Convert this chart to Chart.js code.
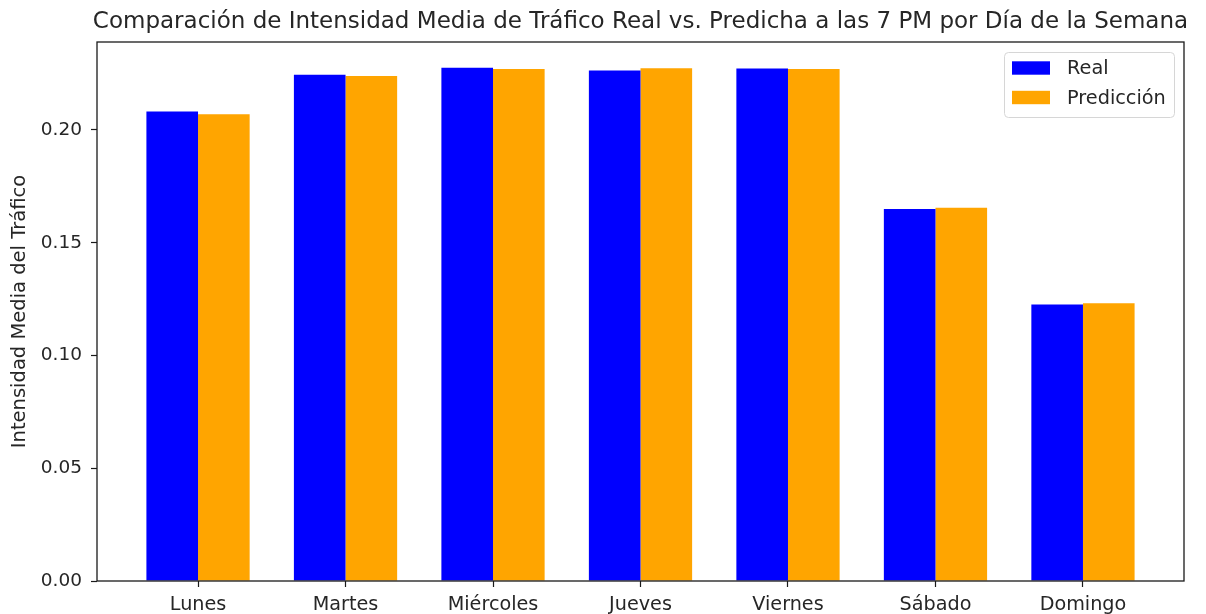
<!DOCTYPE html>
<html><head><meta charset="utf-8">
<script src="https://cdn.jsdelivr.net/npm/chart.js@4/dist/chart.umd.min.js"></script>
<style>html,body{margin:0;padding:0;background:#fff;overflow:hidden}</style>
</head><body>
<canvas id="c" width="1206" height="614"></canvas>
<script>
const days = ['Lunes','Martes','Miércoles','Jueves','Viernes','Sábado','Domingo'];
const realValues = [0.2082,0.2245,0.2276,0.2264,0.2272,0.1649,0.1226];
const predValues = [0.2070,0.2239,0.2270,0.2274,0.2270,0.1655,0.1232];
const yTicks = [0,0.05,0.10,0.15,0.20];
const seriesNames = ['Real','Predicción'];
const seriesColors = ['#0000ff','#ffa500'];
const titleText = 'Comparación de Intensidad Media de Tráfico Real vs. Predicha a las 7 PM por Día de la Semana';
const yTitleText = 'Intensidad Media del Tráfico';

const FONT = "'DejaVu Sans', sans-serif";
const TXT = '#262626';

const framePlugin = {
  id: 'frame',
  afterDraw(chart) {
    const {ctx, chartArea: a} = chart;
    ctx.save();
    // frame
    ctx.strokeStyle = '#1a1a1a';
    ctx.lineWidth = 1.3;
    ctx.strokeRect(a.left, a.top, a.right - a.left, a.bottom - a.top);
    // title
    ctx.fillStyle = TXT;
    ctx.font = '23px ' + FONT;
    ctx.textAlign = 'center';
    ctx.textBaseline = 'middle';
    ctx.fillText(titleText, (a.left + a.right) / 2, 22);
    // legend
    const bw = 170, bh = 65;
    const bx = a.right - 10 - bw, by = a.top + 10;
    ctx.beginPath();
    if (ctx.roundRect) ctx.roundRect(bx + 0.5, by + 0.5, bw, bh, 4); else ctx.rect(bx + 0.5, by + 0.5, bw, bh);
    ctx.fillStyle = 'rgba(255,255,255,0.8)';
    ctx.fill();
    ctx.strokeStyle = '#d6d6d6';
    ctx.lineWidth = 1;
    ctx.stroke();
    ctx.font = '19.3px ' + FONT;
    ctx.textAlign = 'left';
    chart.data.datasets.forEach((ds, i) => {
      const cy = by + 16 + i * 29.5;
      ctx.fillStyle = ds.backgroundColor;
      ctx.fillRect(bx + 8, cy - 6.7, 38, 13.4);
      ctx.fillStyle = TXT;
      ctx.fillText(ds.label, bx + 63, cy + 1);
    });
    ctx.restore();
  }
};

new Chart(document.getElementById('c'), {
  type: 'bar',
  data: {
    datasets: [
      { label: seriesNames[0], data: realValues.map((v, i) => ({x: i, y: v})), backgroundColor: seriesColors[0], categoryPercentage: 0.7, barPercentage: 1.0, borderWidth: 0 },
      { label: seriesNames[1], data: predValues.map((v, i) => ({x: i, y: v})), backgroundColor: seriesColors[1], categoryPercentage: 0.7, barPercentage: 1.0, borderWidth: 0 }
    ]
  },
  options: {
    responsive: false,
    devicePixelRatio: 1,
    animation: false,
    layout: { padding: { left: 0, right: 22, top: 42, bottom: 0 } },
    plugins: { legend: { display: false }, title: { display: false }, tooltip: { enabled: false } },
    scales: {
      x: {
        type: 'linear',
        min: -0.685, max: 6.685,
        offset: false,
        afterBuildTicks(s) { s.ticks = days.map((d, i) => ({ value: i })); },
        afterFit(s) { s.height = 33; },
        ticks: { callback: (v) => days[v], color: TXT, font: { family: FONT, size: 19.2 }, padding: 6, maxRotation: 0, autoSkip: false },
        grid: { display: true, offset: false, drawOnChartArea: false, drawTicks: true, tickLength: 6, tickColor: '#1a1a1a', tickWidth: 1.2 },
        border: { display: false }
      },
      y: {
        min: 0, max: 0.239,
        afterBuildTicks(s) { s.ticks = yTicks.map(v => ({ value: v })); },
        afterFit(s) { s.width = 97; },
        ticks: { callback: (v) => v.toFixed(2), color: TXT, font: { family: FONT, size: 18.5 }, padding: 9 },
        grid: { display: true, offset: false, drawOnChartArea: false, drawTicks: true, tickLength: 6, tickColor: '#1a1a1a', tickWidth: 1.2 },
        border: { display: false },
        title: { display: true, text: yTitleText, color: TXT, font: { family: FONT, size: 19.5 }, padding: { top: 8.3, bottom: 0 } }
      }
    }
  },
  plugins: [framePlugin]
});
</script>
</body></html>
